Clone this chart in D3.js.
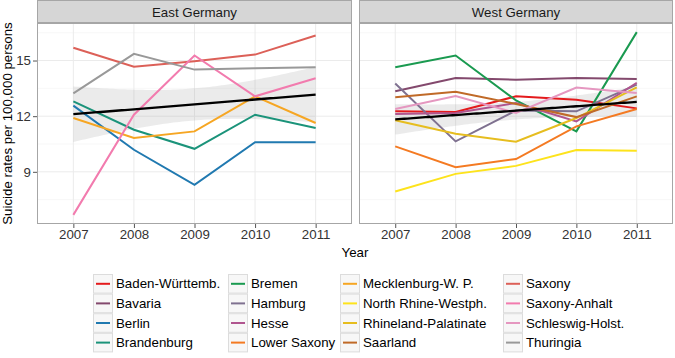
<!DOCTYPE html>
<html>
<head>
<meta charset="utf-8">
<script src="https://cdn.jsdelivr.net/npm/d3@7"></script>
<style>
  body { margin: 0; background: #fff; }
  text { font-family: "Liberation Sans", Arial, sans-serif; }
</style>
</head>
<body>
<div id="chart"></div>
<script>
// data
const years = [2007, 2008, 2009, 2010, 2011];
const regions = ["East Germany", "West Germany"];

const stateNames = ["Baden-Württemb.", "Bavaria", "Berlin", "Brandenburg",
  "Bremen", "Hamburg", "Hesse", "Lower Saxony",
  "Mecklenburg-W. P.", "North Rhine-Westph.", "Rhineland-Palatinate", "Saarland",
  "Saxony", "Saxony-Anhalt", "Schleswig-Holst.", "Thuringia"];
const stateRegion = ["West Germany", "West Germany", "East Germany", "East Germany",
  "West Germany", "West Germany", "West Germany", "West Germany",
  "East Germany", "West Germany", "West Germany", "West Germany",
  "East Germany", "East Germany", "West Germany", "East Germany"];
const stateColors = ["#e41a1c", "#83496d", "#2079b0", "#1b937a",
  "#1a9a50", "#7f7190", "#b0558f", "#f47a22",
  "#f6a623", "#fde31c", "#e6bd1f", "#c06a28",
  "#dc6058", "#f27bae", "#e597c0", "#999999"];

const badenWuerttemb = [12.26, 12.22, 13.07, 12.89, 12.42];
const bavaria        = [13.34, 14.06, 13.97, 14.06, 14.00];
const berlin         = [12.57, 10.19, 8.30, 10.60, 10.60];
const brandenburg    = [12.80, 11.27, 10.24, 12.08, 11.36];
const bremen         = [14.64, 15.27, 12.85, 11.18, 16.53];
const hamburg        = [13.76, 10.64, 12.30, 12.26, 13.70];
const hesse          = [12.12, 12.17, 12.71, 11.72, 13.80];
const lowerSaxony    = [10.37, 9.25, 9.69, 11.45, 12.39];
const mecklenburg    = [11.90, 10.82, 11.18, 13.07, 11.63];
const northRhine     = [7.94, 8.89, 9.32, 10.17, 10.14];
const rhineland      = [11.78, 11.05, 10.62, 11.90, 13.55];
const saarland       = [13.02, 13.31, 12.66, 11.95, 13.07];
const saxony         = [15.69, 14.66, 14.96, 15.32, 16.35];
const saxonyAnhalt   = [6.68, 12.08, 15.27, 13.07, 14.04];
const schleswig      = [12.39, 13.09, 12.17, 13.54, 13.25];
const thuringia      = [13.23, 15.36, 14.51, 14.58, 14.64];

const rateArrays = [badenWuerttemb, bavaria, berlin, brandenburg,
  bremen, hamburg, hesse, lowerSaxony,
  mecklenburg, northRhine, rhineland, saarland,
  saxony, saxonyAnhalt, schleswig, thuringia];

const yTicks = [9, 12, 15];
const yMinor = [7.5, 10.5, 13.5, 16.5];

const states = stateNames.map((name, i) => ({
  name: name,
  region: stateRegion[i],
  color: stateColors[i],
  values: years.map((yr, j) => ({ year: yr, rate: rateArrays[i][j] }))
}));

// layout
const W = 675, H = 358;
const panelTop = 23, panelBottom = 224;
const panels = [
  { region: "East Germany", x0: 37, x1: 352 },
  { region: "West Germany", x0: 359, x1: 673 }
];

const svg = d3.select("#chart").append("svg")
  .attr("width", W).attr("height", H);

// shared y scale, ggplot style 5% expansion
const allRates = rateArrays.flat();
const yMin = d3.min(allRates), yMax = d3.max(allRates);
const pad = (yMax - yMin) * 0.05;
const y = d3.scaleLinear()
  .domain([yMin - pad, yMax + pad])
  .range([panelBottom, panelTop]);

// t quantile (Cornish-Fisher), for the 95% band of the lm fit
function tQuant(df) {
  const z = 1.959964;
  return z + (z ** 3 + z) / (4 * df) + (5 * z ** 5 + 16 * z ** 3 + 3 * z) / (96 * df * df);
}

function lmFit(points) {
  const n = points.length;
  const mx = d3.mean(points, d => d.year), my = d3.mean(points, d => d.rate);
  const sxx = d3.sum(points, d => (d.year - mx) ** 2);
  const sxy = d3.sum(points, d => (d.year - mx) * (d.rate - my));
  const b = sxy / sxx, a = my - b * mx;
  const sse = d3.sum(points, d => (d.rate - a - b * d.year) ** 2);
  const s = Math.sqrt(sse / (n - 2));
  const t = tQuant(n - 2);
  const grid = d3.range(0, 81).map(k => years[0] + (years[4] - years[0]) * k / 80);
  return grid.map(xv => {
    const fit = a + b * xv;
    const se = s * Math.sqrt(1 / n + (xv - mx) ** 2 / sxx);
    return { year: xv, fit: fit, lo: fit - t * se, hi: fit + t * se };
  });
}

panels.forEach(p => {
  const x = d3.scalePoint().domain(years).range([p.x0, p.x1]).padding(0.6);
  const xLin = d3.scaleLinear().domain([years[0], years[4]]).range([x(years[0]), x(years[4])]);
  const g = svg.append("g");

  // background + grid
  g.append("rect").attr("x", p.x0).attr("y", panelTop)
    .attr("width", p.x1 - p.x0).attr("height", panelBottom - panelTop)
    .attr("fill", "#fff");
  g.selectAll(".minor").data(yMinor).enter().append("line")
    .attr("x1", p.x0).attr("x2", p.x1)
    .attr("y1", d => y(d)).attr("y2", d => y(d))
    .attr("stroke", "#f2f2f2").attr("stroke-width", 0.6);
  g.selectAll(".majorY").data(yTicks).enter().append("line")
    .attr("x1", p.x0).attr("x2", p.x1)
    .attr("y1", d => y(d)).attr("y2", d => y(d))
    .attr("stroke", "#ebebeb").attr("stroke-width", 1);
  g.selectAll(".majorX").data(years).enter().append("line")
    .attr("x1", d => x(d)).attr("x2", d => x(d))
    .attr("y1", panelTop).attr("y2", panelBottom)
    .attr("stroke", "#ebebeb").attr("stroke-width", 1);

  const sub = states.filter(s => s.region === p.region);
  const band = lmFit(sub.flatMap(s => s.values));

  // confidence ribbon
  g.append("path").datum(band)
    .attr("d", d3.area().x(d => xLin(d.year)).y0(d => y(d.lo)).y1(d => y(d.hi)))
    .attr("fill", "#999").attr("fill-opacity", 0.2);

  // state lines
  const line = d3.line().x(d => x(d.year)).y(d => y(d.rate));
  g.selectAll(".state").data(sub).enter().append("path")
    .attr("d", d => line(d.values))
    .attr("fill", "none")
    .attr("stroke", d => d.color)
    .attr("stroke-width", 2);

  // regression line
  g.append("path").datum(band)
    .attr("d", d3.line().x(d => xLin(d.year)).y(d => y(d.fit)))
    .attr("fill", "none").attr("stroke", "#000").attr("stroke-width", 2.3);

  // border
  g.append("rect").attr("x", p.x0 + 0.5).attr("y", panelTop + 0.5)
    .attr("width", p.x1 - p.x0 - 1).attr("height", panelBottom - panelTop - 1)
    .attr("fill", "none").attr("stroke", "#a6a6a6");

  // strip
  g.append("rect").attr("x", p.x0 + 0.5).attr("y", 0.5)
    .attr("width", p.x1 - p.x0 - 1).attr("height", panelTop - 1)
    .attr("fill", "#d6d6d6").attr("stroke", "#a6a6a6");
  g.append("text").attr("x", (p.x0 + p.x1) / 2).attr("y", 12)
    .attr("text-anchor", "middle").attr("dominant-baseline", "central")
    .attr("font-size", 13.3).attr("fill", "#1a1a1a").text(p.region);

  // x axis
  const xa = svg.append("g").attr("transform", `translate(0,${panelBottom})`)
    .call(d3.axisBottom(x).tickSize(4).tickPadding(2));
  xa.select(".domain").remove();
  xa.selectAll(".tick line").attr("stroke", "#555");
  xa.selectAll(".tick text").attr("font-size", 13.3).attr("fill", "#333")
    .attr("font-family", null);
});

// y axis (left panel only)
const ya = svg.append("g").attr("transform", `translate(${panels[0].x0},0)`)
  .call(d3.axisLeft(y).tickValues(yTicks).tickSize(4).tickPadding(2));
ya.select(".domain").remove();
ya.selectAll(".tick line").attr("stroke", "#555");
ya.selectAll(".tick text").attr("font-size", 13.3).attr("fill", "#333")
  .attr("font-family", null);

// axis titles
svg.append("text").attr("x", (panels[0].x0 + panels[1].x1) / 2).attr("y", 257)
  .attr("text-anchor", "middle").attr("font-size", 13.3).attr("fill", "#000")
  .text("Year");
svg.append("text")
  .attr("transform", `translate(12,${(panelTop + panelBottom) / 2}) rotate(-90)`)
  .attr("text-anchor", "middle").attr("font-size", 13.3).attr("fill", "#000")
  .text("Suicide rates per 100,000 persons");

// legend, 4 rows by column
const legX = [93, 228, 340, 503];
const legTop = 274, keyH = 19.6, keyW = 20;
const leg = svg.append("g");
states.forEach((s, i) => {
  const col = Math.floor(i / 4), row = i % 4;
  const gx = legX[col], gy = legTop + row * keyH;
  leg.append("rect").attr("x", gx + 0.5).attr("y", gy + 0.5)
    .attr("width", keyW - 1).attr("height", keyH - 1)
    .attr("fill", "#f7f7f7").attr("stroke", "#dcdcdc");
  leg.append("line").attr("x1", gx + 3).attr("x2", gx + keyW - 3)
    .attr("y1", gy + keyH / 2).attr("y2", gy + keyH / 2)
    .attr("stroke", s.color).attr("stroke-width", 2);
  leg.append("text").attr("x", gx + keyW + 3).attr("y", gy + keyH / 2)
    .attr("dominant-baseline", "central").attr("font-size", 13.3).attr("fill", "#000")
    .text(s.name);
});
</script>
</body>
</html>
